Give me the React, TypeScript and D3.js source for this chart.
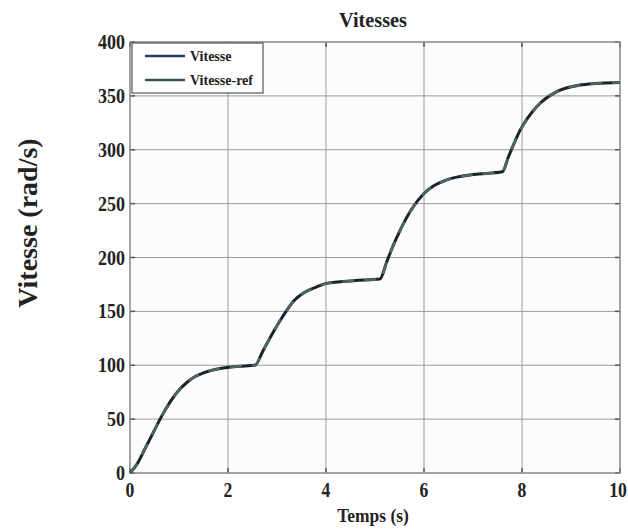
import React from "react";
import * as d3 from "d3";

const timeS = [0, 0.14, 0.3, 0.48, 0.65, 0.82, 1.0, 1.16, 1.33, 1.5, 1.84, 2.2, 2.55, 2.72, 2.99, 3.2, 3.35, 3.54, 3.8, 4.01, 4.56, 5.1, 5.24, 5.37, 5.51, 5.75, 5.99, 6.2, 6.46, 7.01, 7.6, 7.72, 7.96, 8.3, 8.71, 9.18, 9.5, 10];
const vitesse = [0, 8, 22, 38, 53, 66, 77, 84, 89.5, 93, 97, 99, 100, 114, 136, 151, 160, 167, 172.5, 176, 178.5, 180, 196, 211, 225, 245, 259, 266.5, 272, 277, 279.5, 293, 318, 340, 354, 360, 361.5, 362.5];
const vitesseRef = [0, 8, 22, 38, 53, 66, 77, 84, 89.5, 93, 97, 99, 100, 114, 136, 151, 160, 167, 172.5, 176, 178.5, 180, 196, 211, 225, 245, 259, 266.5, 272, 277, 279.5, 293, 318, 340, 354, 360, 361.5, 362.5];
const xTicks = [0, 2, 4, 6, 8, 10];
const yTicks = [0, 50, 100, 150, 200, 250, 300, 350, 400];
const seriesNames = ["Vitesse", "Vitesse-ref"];

const W = 628, H = 530;
const L = 130, R = 620, T = 42, B = 473;
const FONT = "'Liberation Serif', 'Times New Roman', serif";

export default function App() {
  const x = d3.scaleLinear().domain([0, 10]).range([L, R]);
  const y = d3.scaleLinear().domain([0, 400]).range([B, T]);
  const line = d3.line<number>()
    .x((_, i) => x(timeS[i]))
    .y((d) => y(d))
    .curve(d3.curveMonotoneX);
  const grid = "#9a9a9a";
  return (
    <svg width={W} height={H} style={{ position: "absolute", left: 0, top: 0, background: "#fff" }}>
      <rect x={L} y={T} width={R - L} height={B - T} fill="#fcfcfc" />
      {xTicks.map((t) => (
        <g key={"gx" + t}>
          <line x1={x(t)} x2={x(t)} y1={T} y2={B} stroke={grid} strokeWidth={1} />
          <line x1={x(t)} x2={x(t)} y1={B} y2={B - 5} stroke="#555" strokeWidth={1.5} />
          <line x1={x(t)} x2={x(t)} y1={T} y2={T + 5} stroke="#555" strokeWidth={1.5} />
          <text transform={`translate(${Math.min(x(t), W - 10)},${B + 24}) scale(0.88,1)`} textAnchor="middle" fontFamily={FONT} fontWeight="bold" fontSize={20} fill="#222">{t}</text>
        </g>
      ))}
      {yTicks.map((t) => (
        <g key={"gy" + t}>
          <line x1={L} x2={R} y1={y(t)} y2={y(t)} stroke={grid} strokeWidth={1} />
          <line x1={L} x2={L + 5} y1={y(t)} y2={y(t)} stroke="#555" strokeWidth={1.5} />
          <line x1={R} x2={R - 5} y1={y(t)} y2={y(t)} stroke="#555" strokeWidth={1.5} />
          <text transform={`translate(${L - 5},${y(t) + 7}) scale(0.9,1)`} textAnchor="end" fontFamily={FONT} fontWeight="bold" fontSize={20} fill="#222">{t}</text>
        </g>
      ))}
      <rect x={L} y={T} width={R - L} height={B - T} fill="none" stroke="#8a8a8a" strokeWidth={1.2} />
      <path d={line(vitesse) || ""} fill="none" stroke="#1c2030" strokeWidth={3} />
      <path d={line(vitesseRef) || ""} fill="none" stroke="#4d6b5c" strokeWidth={2.5} strokeDasharray="12 10" />
      <rect x={132} y={43} width={131} height={50} fill="#fff" stroke="#555" strokeWidth={1.2} />
      <line x1={145} x2={185} y1={56} y2={56} stroke="#2b3a66" strokeWidth={2.5} />
      <line x1={145} x2={185} y1={80} y2={80} stroke="#355645" strokeWidth={2.5} />
      <text x={190} y={61} fontFamily={FONT} fontWeight="bold" fontSize={14} fill="#222">{seriesNames[0]}</text>
      <text x={190} y={85} fontFamily={FONT} fontWeight="bold" fontSize={14} fill="#222">{seriesNames[1]}</text>
      <text transform="translate(373,27) scale(0.92,1)" textAnchor="middle" fontFamily={FONT} fontWeight="bold" fontSize={22} fill="#222">Vitesses</text>
      <text transform="translate(373,522) scale(0.92,1)" textAnchor="middle" fontFamily={FONT} fontWeight="bold" fontSize={19} fill="#222">Temps (s)</text>
      <text transform="translate(37,223) rotate(-90)" textAnchor="middle" fontFamily={FONT} fontWeight="bold" fontSize={28} fill="#222">Vitesse (rad/s)</text>
    </svg>
  );
}
